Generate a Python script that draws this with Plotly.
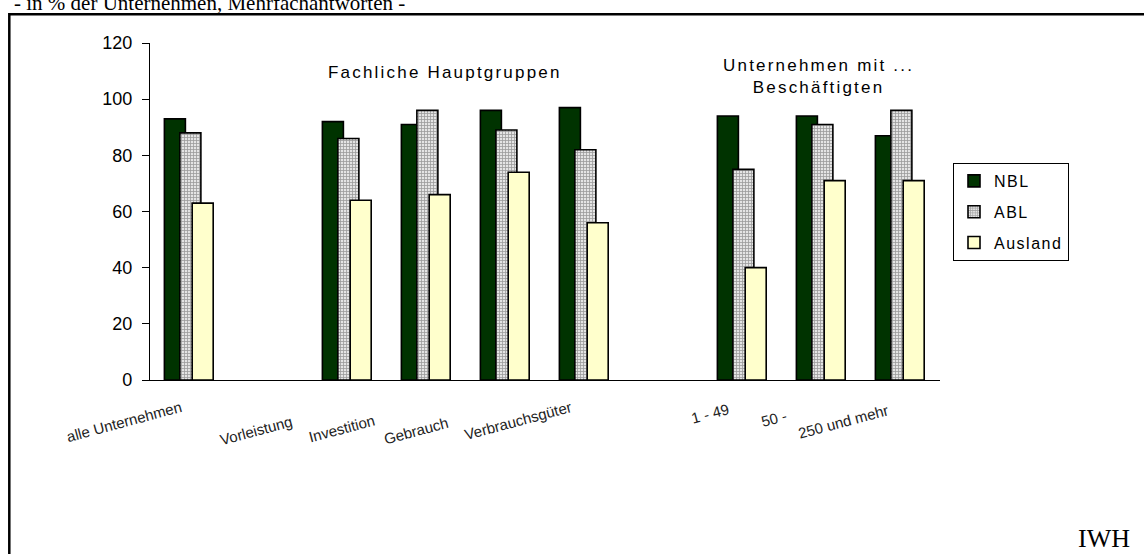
import plotly.graph_objects as go

# ---- data ----
categories = ["alle Unternehmen", "leer 1", "Vorleistung", "Investition", "Gebrauch",
              "Verbrauchsgüter", "leer 2", "1 - 49", "50 - 249", "250 und mehr"]
nbl = [93, None, 92, 91, 96, 97, None, 94, 94, 87]
abl = [88, None, 86, 96, 89, 82, None, 75, 91, 96]
ausland = [63, None, 64, 66, 74, 56, None, 40, 71, 71]
series_names = ["NBL", "ABL", "Ausland"]

# visible category labels (as drawn under the axis)
tick_labels = ["alle Unternehmen", "Vorleistung", "Investition", "Gebrauch",
               "Verbrauchsgüter", "1 - 49", "50 -", "250 und mehr"]

y_ticks = [0, 20, 40, 60, 80, 100, 120]

# ---- geometry helpers (layout only) ----
W, H = 1144, 554
L, R, T, B = 150, 940, 43, 380
slot = (R - L) / len(categories)


def px_to_xdata(px):
    return (px - L) / slot - 0.5


def px_to_xpaper(px):
    return (px - L) / (R - L)


def py_to_ypaper(py):
    return (B - py) / (B - T)


fig = go.Figure()

bar_width = 0.266
offsets = [-0.318, -0.122, 0.034]
styles = [
    dict(color="#003300"),
    dict(color="#d4d4d4", pattern=dict(shape="+", fgcolor="#9a9a9a", bgcolor="#e4e4e4",
                                       size=3, solidity=0.45, fillmode="replace")),
    dict(color="#ffffcc"),
]
for name, vals, off, st in zip(series_names, [nbl, abl, ausland], offsets, styles):
    fig.add_trace(go.Bar(
        x=categories, y=vals,
        name=f'<span style="letter-spacing:1.5px">{name}</span>',
        width=bar_width, offset=off,
        marker=dict(line=dict(color="#000000", width=1.6), **st),
        legendgroup=name,
    ))

# category label anchor points (top-right end of each rotated label, pixels)
label_pos = [(186, 396), (296, 410), (379, 409), (453, 411), (576, 396),
             (733, 398), (791, 404), (893, 399)]
annotations = []
for txt, (ex, ey) in zip(tick_labels, label_pos):
    annotations.append(dict(
        text=txt, x=px_to_xdata(ex), y=py_to_ypaper(ey), xref="x", yref="paper",
        xanchor="right", yanchor="top", showarrow=False, textangle=-15,
        font=dict(family="Liberation Sans", size=15, color="#222222")))

annotations += [
    dict(text='<span style="letter-spacing:2.2px">Fachliche Hauptgruppen</span>',
         x=px_to_xpaper(445), y=py_to_ypaper(72), xref="paper", yref="paper",
         showarrow=False, xanchor="center", yanchor="middle",
         font=dict(family="Liberation Sans", size=17, color="#000000")),
    dict(text='<span style="letter-spacing:2.2px">Unternehmen mit ...</span><br>'
              '<span style="letter-spacing:2.2px">Beschäftigten</span>',
         x=px_to_xpaper(818), y=py_to_ypaper(76), xref="paper", yref="paper",
         showarrow=False, xanchor="center", yanchor="middle",
         font=dict(family="Liberation Sans", size=17, color="#000000")),
    dict(text="- in % der Unternehmen, Mehrfachantworten -",
         x=px_to_xpaper(12), y=py_to_ypaper(17), xref="paper", yref="paper",
         showarrow=False, xanchor="left", yanchor="bottom",
         font=dict(family="Liberation Serif", size=21, color="#000000")),
    dict(text="IWH", x=px_to_xpaper(1104), y=py_to_ypaper(538), xref="paper", yref="paper",
         showarrow=False, xanchor="center", yanchor="middle",
         font=dict(family="Liberation Serif", size=26, color="#000000")),
]

shapes = [dict(type="rect", xref="paper", yref="paper",
               x0=px_to_xpaper(9.3), x1=px_to_xpaper(1170),
               y0=py_to_ypaper(580), y1=py_to_ypaper(14.3),
               line=dict(color="#000000", width=2.5), fillcolor="rgba(0,0,0,0)",
               layer="below")]

fig.update_layout(
    width=W, height=H,
    margin=dict(l=L, r=W - R, t=T, b=H - B, pad=0),
    paper_bgcolor="#ffffff", plot_bgcolor="#ffffff",
    barmode="overlay",
    showlegend=True,
    legend=dict(x=px_to_xpaper(953), y=py_to_ypaper(163), xanchor="left", yanchor="top",
                bordercolor="#000000", borderwidth=1, bgcolor="#ffffff",
                font=dict(family="Liberation Sans", size=16, color="#000000"),
                tracegroupgap=7, itemwidth=30),
    annotations=annotations,
    shapes=shapes,
    xaxis=dict(type="category", categoryorder="array", categoryarray=categories,
               range=[-0.5, len(categories) - 0.5], showticklabels=False, ticks="",
               showline=True, linecolor="#000000", linewidth=1.2, showgrid=False,
               zeroline=False, fixedrange=True),
    yaxis=dict(range=[0, 120], tickvals=y_ticks, showline=True, linecolor="#000000",
               linewidth=1.2, ticks="outside", ticklen=7, tickcolor="#000000",
               tickwidth=1.2, ticklabelstandoff=6, showgrid=False, zeroline=False,
               fixedrange=True,
               tickfont=dict(family="Liberation Sans", size=18, color="#000000")),
)

fig.write_html("out.html", config={"displayModeBar": False},
               post_script="document.body.style.margin='0';")
